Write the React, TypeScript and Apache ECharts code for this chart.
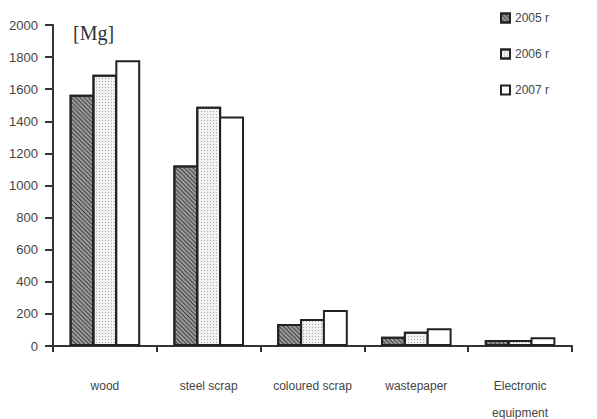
import React, { useEffect, useRef } from "react";
import * as echarts from "echarts";

const categories = ["wood", "steel scrap", "coloured scrap", "wastepaper", "Electronic\nequipment"];
const seriesNames = ["2005 r", "2006 r", "2007 r"];
const values2005 = [1565, 1125, 137, 58, 37];
const values2006 = [1690, 1490, 168, 89, 38];
const values2007 = [1780, 1430, 224, 110, 54];
const yTicks = { min: 0, max: 2000, interval: 200 };
const unitLabel = "[Mg]";

export default function App() {
  const ref = useRef<HTMLDivElement>(null);
  useEffect(() => {
    if (!ref.current) return;
    const chart = echarts.init(ref.current, null, { renderer: "svg" });
    const font = "'Liberation Sans', Arial, sans-serif";
    const border = { borderColor: "#222", borderWidth: 2 };
    chart.setOption({
      animation: false,
      backgroundColor: "#ffffff",
      grid: { left: 53, right: 25, top: 25, bottom: 73, containLabel: false, outerBoundsMode: "none" },
      legend: {
        orient: "vertical",
        left: 495,
        top: 7,
        itemWidth: 9,
        itemHeight: 9,
        itemGap: 24,
        icon: "rect",
        textStyle: { color: "#444", fontSize: 12, fontFamily: font },
        data: seriesNames,
      },
      xAxis: {
        type: "category",
        data: categories,
        axisLine: { lineStyle: { color: "#333", width: 2 } },
        axisTick: { show: true, length: 6, lineStyle: { color: "#333", width: 2 } },
        axisLabel: {
          interval: 0,
          color: "#444",
          fontSize: 12,
          fontFamily: font,
          margin: 32,
          lineHeight: 27,
          verticalAlign: "top",
          padding: [-6, 0, 0, 0],
        },
      },
      yAxis: {
        type: "value",
        min: yTicks.min,
        max: yTicks.max,
        interval: yTicks.interval,
        splitLine: { show: false },
        axisLine: { show: true, lineStyle: { color: "#333", width: 2 } },
        axisTick: { show: true, length: 8, lineStyle: { color: "#333", width: 2 } },
        axisLabel: {
          color: "#444",
          fontSize: 13,
          fontFamily: font,
          margin: 15,
          formatter: (v: number) => String(v),
        },
      },
      graphic: [
        {
          type: "text",
          left: 73,
          top: 23,
          style: {
            text: unitLabel,
            fontSize: 20,
            fontFamily: "'Liberation Serif', 'DejaVu Serif', serif",
            fill: "#333",
          },
        },
      ],
      series: [
        {
          name: seriesNames[0],
          type: "bar",
          data: values2005,
          barGap: "-8%",
          barCategoryGap: "32%",
          itemStyle: {
            color: "#9a9a9a",
            ...border,
            decal: {
              symbol: "rect",
              dashArrayX: [1, 0],
              dashArrayY: [1, 2],
              rotation: Math.PI / 4,
              color: "#444",
            },
          },
        },
        {
          name: seriesNames[1],
          type: "bar",
          data: values2006,
          barGap: "-8%",
          barCategoryGap: "32%",
          itemStyle: {
            color: "#f2f2f2",
            ...border,
            decal: {
              symbol: "rect",
              symbolSize: 1,
              dashArrayX: [1, 2],
              dashArrayY: [1, 2],
              rotation: 0,
              color: "#aaa",
            },
          },
        },
        {
          name: seriesNames[2],
          type: "bar",
          data: values2007,
          barGap: "-8%",
          barCategoryGap: "32%",
          itemStyle: { color: "#ffffff", ...border },
        },
      ],
    });
    return () => chart.dispose();
  }, []);
  return <div ref={ref} style={{ width: 597, height: 419, position: "absolute", left: 0, top: 0 }} />;
}
